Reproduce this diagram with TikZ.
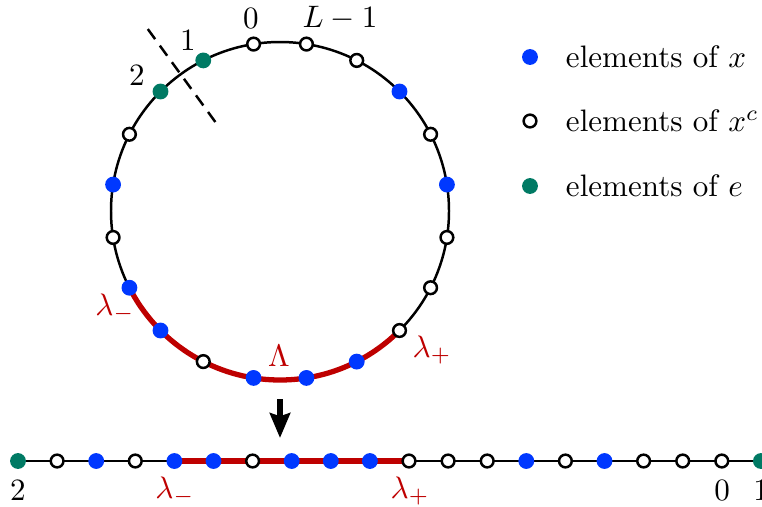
\documentclass[tikz,border=0pt]{standalone}
\usepackage{amssymb}
\usepackage{amsfonts}
\usepackage{xcolor}
\usetikzlibrary{arrows.meta,backgrounds,positioning}
\definecolor{xblue}{RGB}{0,56,255}
\definecolor{egreen}{RGB}{0,122,100}
\definecolor{lamred}{RGB}{190,0,0}
\tikzset{
  xdot/.style={circle, fill=xblue, inner sep=0pt, minimum size=5.1pt},
  cdot/.style={circle, draw=black, fill=white, line width=0.8pt, inner sep=0pt, minimum size=4.1pt},
  edot/.style={circle, fill=egreen, inner sep=0pt, minimum size=5.1pt},
  ring/.style={line width=0.8pt},
  lamline/.style={draw=lamred, line width=1.7pt},
  lamtext/.style={text=lamred},
}

\begin{document}
\begin{tikzpicture}[x=0.322pt, y=0.322pt]
    \useasboundingbox (0,0) rectangle (762,506);
    % Ring of sites
    \coordinate (ctr) at (280,295);
    \foreach \t [count=\k from 0] in {cdot,edot,edot,cdot,xdot,cdot,xdot,xdot,cdot,xdot,
                                      xdot,xdot,cdot,cdot,cdot,xdot,cdot,xdot,cdot,cdot}
        \node[\t] (c\k) at ({280+169*cos(99+18*\k)},{295+169*sin(99+18*\k)}) {};
    \begin{scope}[on background layer]
        \draw[ring] (ctr) circle (169);
        \draw[lamline] (c6.center) arc[start angle=207, end angle=315, radius=169];
    \end{scope}
    % Cut between 1 and 2
    \coordinate (cutin) at ({280+110*cos(126)},{295+110*sin(126)});
    \coordinate (cutout) at ({280+229*cos(126)},{295+229*sin(126)});
    \draw[ring, dash pattern=on 4pt off 2.6pt] (cutin) -- (cutout);
    % Ring labels
    \node (n0) at (251,488) {$0$};
    \node (nL) at (340,488) {$L-1$};
    \node (n1) at (188,466) {$1$};
    \node (n2) at (137,431) {$2$};
    \node[lamtext] (lmin) at (115,198) {$\lambda_-$};
    \node[lamtext] (lplus) at (432,156) {$\lambda_+$};
    \node[lamtext] (bigl) at (279,150) {$\Lambda$};
    % Legend
    \node[xdot] (kx) at (530,449) {};
    \node[anchor=west] (tx) at (555,449) {elements of $x$};
    \node[cdot] (kc) at (530,385) {};
    \node[anchor=west] (tc) at (555,385) {elements of $x^c$};
    \node[edot] (ke) at (530,320) {};
    \node[anchor=west] (te) at (555,320) {elements of $e$};
    % Unrolled chain
    \coordinate (arrtop) at (280,107);
    \coordinate (arrbot) at (280,68);
    \draw[-{Stealth[length=8pt,width=6.5pt,inset=1pt]}, line width=1.7pt] (arrtop) -- (arrbot);
    \foreach \t [count=\k from 0] in {edot,cdot,xdot,cdot,xdot,xdot,cdot,xdot,xdot,xdot,
                                      cdot,cdot,cdot,xdot,cdot,xdot,cdot,cdot,cdot,edot}
        \node[\t] (b\k) at ({18+39.1*\k},45) {};
    \begin{scope}[on background layer]
        \draw[ring] (b0.center) -- (b19.center);
        \draw[lamline] (b4.center) -- (b10.center);
    \end{scope}
    \node (m2) at (18,16) {$2$};
    \node[lamtext] (mmin) at (175,15) {$\lambda_-$};
    \node[lamtext] (mplus) at (410,15) {$\lambda_+$};
    \node (m0) at (722,16) {$0$};
    \node (m1) at (761,16) {$1$};
\end{tikzpicture}
\end{document}
